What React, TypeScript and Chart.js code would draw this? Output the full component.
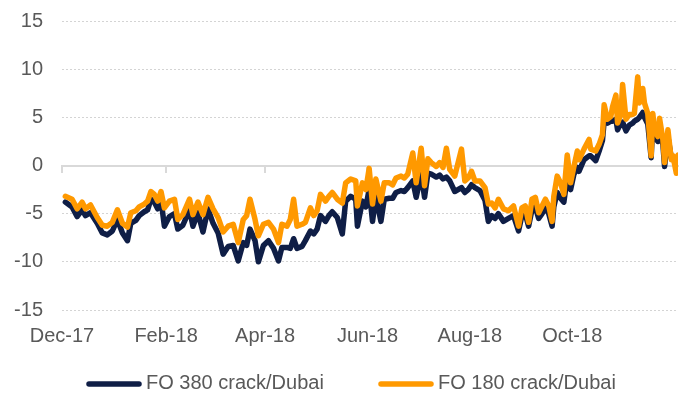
import React, { useEffect, useRef } from "react";
import { Chart, registerables } from "chart.js";

Chart.register(...registerables);

// Days since 1 Dec 2017
const dayOffsets = [
  2, 6, 9, 12, 14, 17, 21, 24, 27, 30, 33, 36, 39, 41, 44, 46, 49, 51, 53, 55,
  57, 59, 61, 64, 67, 69, 72, 76, 78, 81, 84, 87, 90, 93, 96, 99, 102, 105, 108, 110,
  112, 115, 117, 120, 123, 126, 129, 131, 134, 136, 138, 140, 143, 145, 148, 150, 152, 154, 157, 159,
  161, 164, 167, 169, 172, 175, 176, 179, 181, 183, 185, 187, 190, 192, 195, 197, 199, 202, 204, 206,
  209, 211, 214, 216, 218, 220, 223, 225, 227, 229, 231, 234, 238, 240, 242, 244, 246, 249, 252, 254,
  256, 258, 260, 263, 266, 269, 272, 274, 276, 278, 280, 282, 284, 286, 288, 290, 292, 293, 295, 297,
  299, 301, 303, 305, 307, 308, 311, 314, 315, 318, 320, 322, 323, 325, 327, 328, 330, 331, 333, 334,
  336, 338, 340, 341, 343, 344, 346, 347, 349, 351, 352, 353, 355, 356, 358, 359, 361, 363, 364, 366,
  367,
];

const fo380 = [
  -3.8, -4.3, -5.3, -4.6, -5.2, -4.9, -6.0, -7.0, -7.2, -6.8, -5.6, -7.0, -7.8, -6.0, -5.7, -5.2, -4.8, -4.6, -3.5, -3.8,
  -4.5, -3.6, -6.3, -5.3, -5.0, -6.6, -6.2, -4.6, -6.3, -4.9, -6.9, -4.5, -6.0, -7.0, -9.2, -8.4, -8.3, -9.9, -8.0, -8.3,
  -6.6, -7.8, -10.0, -8.3, -7.8, -8.6, -9.9, -8.5, -8.5, -8.6, -7.6, -8.6, -8.4, -7.8, -6.8, -7.1, -6.6, -5.2, -5.8, -5.2,
  -4.8, -5.4, -7.1, -3.7, -3.2, -3.5, -6.3, -3.7, -4.3, -2.5, -5.8, -3.2, -5.8, -3.5, -3.4, -3.4, -2.8, -2.6, -2.7, -2.3,
  -1.6, -3.3, -0.9, -3.3, -0.8, -0.9, -1.2, -1.0, -1.4, -1.2, -1.6, -2.7, -2.3, -2.8, -2.5, -2.0, -2.3, -2.6, -3.6, -5.8,
  -5.2, -5.5, -5.0, -5.8, -5.5, -5.2, -6.8, -5.2, -5.0, -6.3, -4.6, -4.3, -5.5, -5.0, -4.4, -5.0, -6.3, -4.3, -2.8, -3.4,
  -3.8, -1.2, -2.5, -0.9, -0.2, -0.6, 0.6, 1.0, 1.0, 0.5, 1.5, 2.6, 4.6, 4.4, 4.6, 4.6, 4.8, 3.7, 4.4, 4.5,
  3.6, 4.2, 4.4, 4.6, 4.8, 5.0, 5.5, 5.0, 4.3, 0.8, 4.4, 3.0, 2.5, 3.6, 2.2, -0.1, 3.0, 0.8, 0.8, 0.4,
  0.5,
];

const fo180 = [
  -3.2, -3.5, -4.5, -3.8, -4.5, -4.1, -5.4, -6.2, -6.3, -5.9, -4.6, -6.0, -6.4, -4.9, -4.7, -4.3, -4.0, -3.7, -2.7, -3.0,
  -3.7, -2.7, -4.4, -3.7, -3.5, -5.6, -5.1, -3.5, -5.1, -3.8, -5.1, -3.3, -4.5, -5.4, -6.9, -6.3, -6.1, -8.0, -5.6, -5.2,
  -3.5, -5.6, -7.3, -6.1, -5.9, -6.6, -8.0, -6.1, -6.3, -5.6, -3.5, -6.3, -6.1, -5.9, -4.4, -5.2, -4.7, -3.0, -3.7, -3.2,
  -2.8, -3.5, -3.9, -1.8, -1.4, -1.6, -4.2, -1.8, -2.5, -0.3, -4.0, -1.4, -3.7, -1.8, -1.8, -2.0, -1.3, -1.1, -1.3, -0.9,
  1.3, -1.8, 1.8, -2.1, 0.7, 0.3, -0.1, 0.3, -0.2, 1.8, -0.4, -1.1, 1.7, -1.6, -1.3, -0.6, -1.6, -1.6, -2.3, -4.0,
  -3.9, -4.4, -3.5, -4.5, -4.7, -4.2, -6.3, -4.4, -4.2, -5.9, -3.5, -3.3, -4.9, -4.2, -3.5, -4.2, -5.8, -3.2, -1.1, -1.8,
  -3.0, 1.1, -1.8, -0.1, 1.5, 0.6, 1.7, 2.7, 1.7, 1.5, 2.2, 3.2, 6.3, 4.8, 5.1, 6.1, 7.3, 4.4, 5.3, 8.4,
  4.8, 5.3, 5.3, 5.4, 9.2, 6.5, 8.0, 6.5, 5.4, 1.0, 5.4, 3.7, 3.0, 4.9, 2.7, 0.3, 3.7, 0.6, 1.0, -0.8,
  1.1,
];

const monthTicks = [0, 62, 121, 182, 243, 304];
const monthLabels = ["Dec-17", "Feb-18", "Apr-18", "Jun-18", "Aug-18", "Oct-18"];
const yTicks = [-15, -10, -5, 0, 5, 10, 15];
const seriesLabels = ["FO 380 crack/Dubai", "FO 180 crack/Dubai"];
const seriesColors = ["#0F1E46", "#FF9900"];
const X_MAX = 367;

const FONT = '"Liberation Sans", Arial, sans-serif';
const TEXT = "#595959";

const legendPlugin = {
  id: "customLegend",
  afterDraw(chart: any) {
    const ctx = chart.ctx;
    const starts = [86, 378];
    ctx.save();
    ctx.font = `20px ${FONT}`;
    ctx.textBaseline = "middle";
    ctx.textAlign = "left";
    chart.data.datasets.forEach((ds: any, i: number) => {
      const x = starts[i];
      ctx.strokeStyle = ds.borderColor;
      ctx.lineWidth = 5.5;
      ctx.lineCap = "round";
      ctx.beginPath();
      ctx.moveTo(x + 3, 384);
      ctx.lineTo(x + 53, 384);
      ctx.stroke();
      ctx.fillStyle = TEXT;
      ctx.fillText(ds.label, x + 60, 383);
    });
    ctx.restore();
  },
};

export default function App() {
  const ref = useRef<HTMLCanvasElement>(null);

  useEffect(() => {
    if (!ref.current) return;
    const setMonthTicks = (s: any) => {
      s.ticks = monthTicks.map((v) => ({ value: v }));
    };
    const chart = new Chart(ref.current, {
      type: "line",
      data: {
        datasets: [
          {
            label: seriesLabels[0],
            data: dayOffsets.map((d, i) => ({ x: d, y: fo380[i] })),
            borderColor: seriesColors[0],
            backgroundColor: seriesColors[0],
            borderWidth: 5.5,
            pointRadius: 0,
            tension: 0,
            borderJoinStyle: "round",
            borderCapStyle: "round",
            order: 1,
            xAxisID: "x",
            yAxisID: "y",
          },
          {
            label: seriesLabels[1],
            data: dayOffsets.map((d, i) => ({ x: d, y: fo180[i] })),
            borderColor: seriesColors[1],
            backgroundColor: seriesColors[1],
            borderWidth: 5.5,
            pointRadius: 0,
            tension: 0,
            borderJoinStyle: "round",
            borderCapStyle: "round",
            order: 0,
            xAxisID: "x",
            yAxisID: "y",
          },
        ],
      } as any,
      options: {
        animation: false,
        responsive: true,
        maintainAspectRatio: false,
        layout: { padding: { top: 21, right: 22, left: 0, bottom: 50 } },
        plugins: {
          legend: { display: false },
          tooltip: { enabled: false },
        },
        scales: {
          x: {
            type: "linear",
            position: "bottom",
            min: 0,
            max: X_MAX,
            afterBuildTicks: setMonthTicks,
            afterFit: (s: any) => {
              s.height = 40;
            },
            ticks: {
              autoSkip: false,
              maxRotation: 0,
              padding: 14,
              color: TEXT,
              font: { family: FONT, size: 20 },
              callback: (v: any) => {
                const i = monthTicks.indexOf(Number(v));
                return i >= 0 ? monthLabels[i] : "";
              },
            },
            grid: { display: false, drawTicks: false },
            border: { display: false },
          },
          xZero: {
            type: "linear",
            position: { y: 0 },
            min: 0,
            max: X_MAX,
            afterBuildTicks: setMonthTicks,
            ticks: { display: false },
            grid: {
              drawOnChartArea: false,
              drawTicks: true,
              tickLength: 6,
              color: "#d9d9d9",
              lineWidth: 2,
            },
            border: { display: true, color: "#d9d9d9", width: 2 },
          },
          y: {
            type: "linear",
            position: "left",
            weight: 1,
            min: -15,
            max: 15,
            afterBuildTicks: (s: any) => {
              s.ticks = yTicks.map((v) => ({ value: v }));
            },
            afterFit: (s: any) => {
              s.width = 43;
            },
            ticks: {
              padding: 0,
              color: TEXT,
              font: { family: FONT, size: 20 },
            },
            grid: { color: "#d4d4d4", lineWidth: 1, drawTicks: false },
            border: { display: false, dash: [2, 2] },
          },
          ySpacer: {
            type: "linear",
            position: "left",
            weight: 0,
            min: -15,
            max: 15,
            afterFit: (s: any) => {
              s.width = 19;
            },
            ticks: { display: false, padding: 0 },
            grid: { display: false, drawTicks: false },
            border: { display: false },
          },
        } as any,
      },
      plugins: [legendPlugin],
    });
    return () => chart.destroy();
  }, []);

  return (
    <div style={{ position: "absolute", left: 0, top: 0, width: 700, height: 400 }}>
      <canvas ref={ref} />
    </div>
  );
}
